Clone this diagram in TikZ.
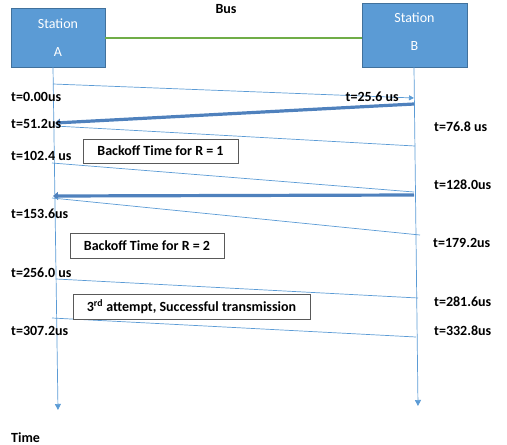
\documentclass[tikz,border=0pt]{standalone}
\usepackage{fontspec}
\setmainfont{Carlito}
\usetikzlibrary{arrows.meta}
\definecolor{boxblue}{HTML}{5B9BD5}
\definecolor{boxedge}{HTML}{41719C}
\definecolor{busgreen}{HTML}{70AD47}
\definecolor{msgblue}{HTML}{5B9BD5}
\definecolor{jamblue}{HTML}{4F81BD}
\begin{document}
\begin{tikzpicture}[x=1pt,y=-1pt,
	station/.style={draw=boxedge, fill=boxblue, line width=0.8pt, minimum width=94pt, inner sep=0pt},
	stext/.style={text=white, align=center, font=\fontsize{14}{28}\selectfont, inner sep=0pt},
	tlabel/.style={font=\fontsize{14}{16}\selectfont\bfseries, inner sep=0pt},
	notebox/.style={draw=black!65, line width=0.9pt, fill=white, font=\fontsize{14}{16}\selectfont\bfseries,
		inner sep=0pt},
	msg/.style={msgblue, line width=0.7pt},
	jam/.style={jamblue, line width=3.2pt, -{Triangle[width=8pt,length=5pt]}}]
		\useasboundingbox (0,0) rectangle (507,445);
		% stations and bus
		\node[station, minimum height=59pt] (A) at (58,37.5) {};
		\node[stext] (Atext) at ([yshift=-0.5pt]A.center) {Station\\A};
		\node[station, minimum width=105pt, minimum height=64pt] (B) at (414.5,35) {};
		\node[stext] (Btext) at ([yshift=3.5pt]B.center) {Station\\B};
		\draw[busgreen, line width=1.4pt] (A.east |- 0,38) -- (B.west |- 0,38);
		\node[tlabel] (bus) at (226,9) {Bus};
		% time lines
		\coordinate (ta) at (53,67);
		\coordinate (tae) at (58,410);
		\coordinate (tb) at (414,67);
		\coordinate (tbe) at (418,406);
		\draw[msg, -{Triangle[width=6pt,length=6pt]}] (ta) -- (tae);
		\draw[msg, -{Triangle[width=6pt,length=6pt]}] (tb) -- (tbe);
		% points on the time lines
		\coordinate (a1) at (53,84);   \coordinate (b1) at (414,98);
		\coordinate (b2) at (414,104); \coordinate (a2) at (55,123);
		\coordinate (a3) at (55,126);  \coordinate (b3) at (415,146);
		\coordinate (a4) at (52,163);  \coordinate (b4) at (414,192);
		\coordinate (b5) at (414,195); \coordinate (a5) at (53,196);
		\coordinate (a6) at (52,198);  \coordinate (b6) at (420,235);
		\coordinate (a7) at (56,279);  \coordinate (b7) at (418,298);
		\coordinate (a8) at (52,318);  \coordinate (b8) at (416,337);
		% messages
		\draw[msg, -{Triangle[width=5pt,length=5pt]}] (a1) -- (b1);
		\draw[jam] (b2) -- (a2);
		\draw[msg] (a3) -- (b3);
		\draw[msg] (a4) -- (b4);
		\draw[jam] (b5) -- (a5);
		\draw[msg] (a6) -- (b6);
		\draw[msg] (a7) -- (b7);
		\draw[msg] (a8) -- (b8);
		% time stamps
		\node[tlabel, anchor=west] (t0) at (11,97) {t=0.00us};
		\node[tlabel, anchor=east] (t1) at (399,97) {t=25.6 us};
		\node[tlabel, anchor=west] (t2) at (11,124) {t=51.2us};
		\node[tlabel, anchor=west] (t3) at (434,127) {t=76.8 us};
		\node[tlabel, anchor=west] (t4) at (11,156) {t=102.4 us};
		\node[tlabel, anchor=west] (t5) at (434,185) {t=128.0us};
		\node[tlabel, anchor=west] (t6) at (11,214) {t=153.6us};
		\node[tlabel, anchor=west] (t7) at (433,243) {t=179.2us};
		\node[tlabel, anchor=west] (t8) at (11,273) {t=256.0 us};
		\node[tlabel, anchor=west] (t9) at (434,302) {t=281.6us};
		\node[tlabel, anchor=west] (t10) at (11,331) {t=307.2us};
		\node[tlabel, anchor=west] (t11) at (434,331) {t=332.8us};
		\node[tlabel, anchor=west] (time) at (11,438) {Time};
		% notes
		\node[notebox, minimum width=155pt, minimum height=24pt] (r1) at (160.5,151) {Backoff Time for R = 1};
		\node[notebox, minimum width=154pt, minimum height=25pt] (r2) at (147,245.5) {Backoff Time for R = 2};
		\node[notebox, minimum width=237pt, minimum height=25pt] (ok) at (191.5,306.5) {3\textsuperscript{rd} attempt, Successful transmission};
	\end{tikzpicture}
\end{document}
